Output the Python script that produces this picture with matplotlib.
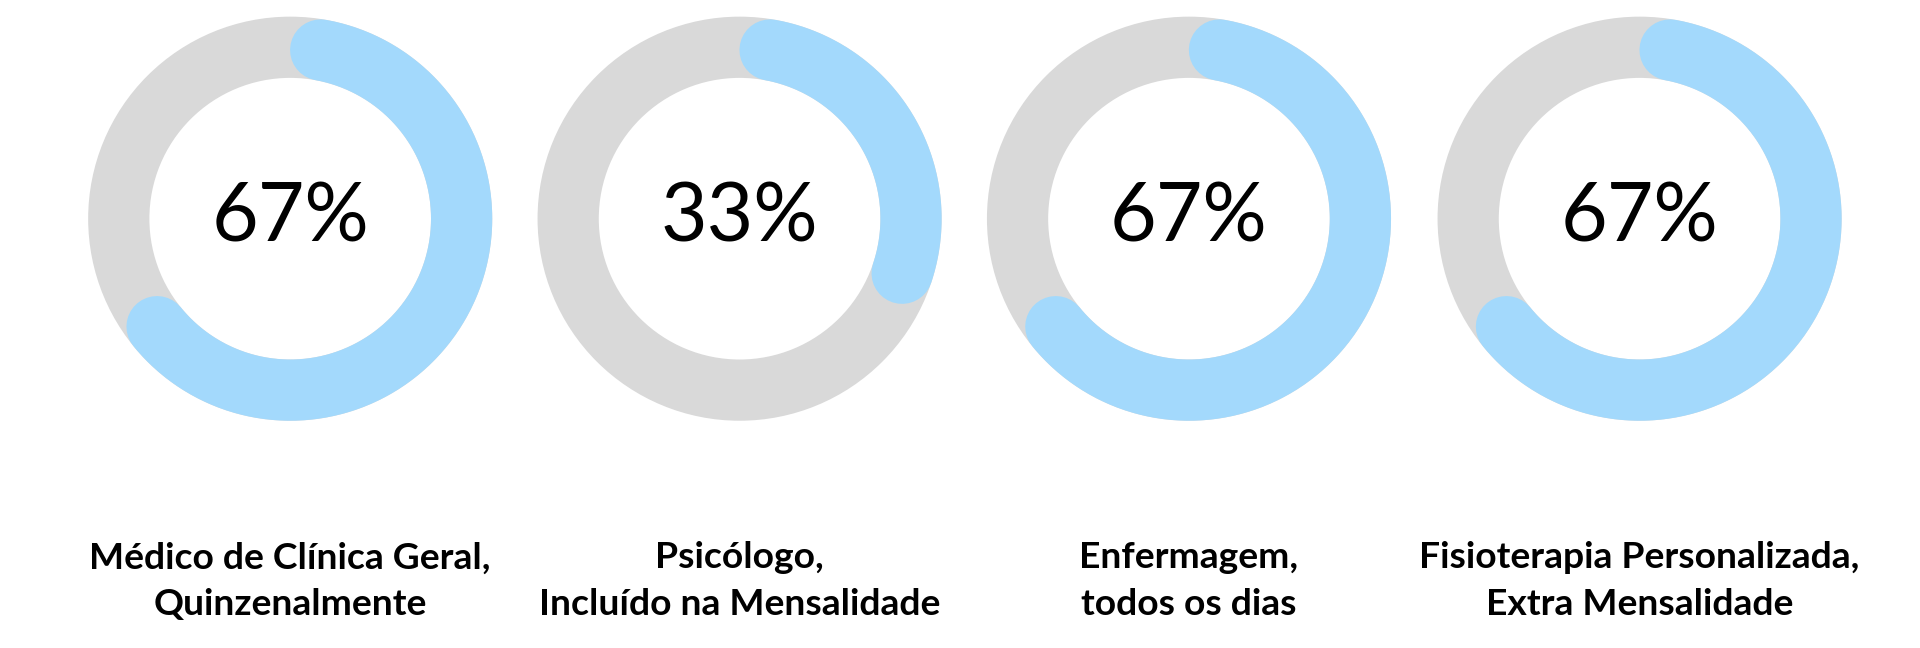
import numpy as np
import matplotlib
matplotlib.use("Agg")
import matplotlib.pyplot as plt
from matplotlib.patches import Circle

# chart data
labels = ["Médico de Clínica Geral,\nQuinzenalmente",
          "Psicólogo,\nIncluído na Mensalidade",
          "Enfermagem,\ntodos os dias",
          "Fisioterapia Personalizada,\nExtra Mensalidade"]
percents = [67, 33, 67, 67]

W, H = 1568, 528
fig = plt.figure(figsize=(19.2, 6.48), dpi=100)
ax = fig.add_axes([0, 0, 1, 1])
ax.set_xlim(0, W)
ax.set_ylim(H, 0)
ax.set_aspect("equal")
ax.axis("off")

scale = 1920 / W
lw = 50 * scale * 0.72
r = 140
cy = 178
centers = [237, 604, 971, 1339]
cap = np.degrees(25 / r)  # round cap sits inside the arc span

for cx, p, lab in zip(centers, percents, labels):
    ax.add_patch(Circle((cx, cy), r, fill=False, ec="#d9d9d9", lw=lw))
    ang = np.radians(90 - cap - np.linspace(0, 360 * p / 100 - 2 * cap, 300))
    ax.plot(cx + r * np.cos(ang), cy - r * np.sin(ang), color="#a3d9fc",
            lw=lw, solid_capstyle="round", solid_joinstyle="round")
    ax.text(cx, cy, f"{p}%", ha="center", va="center", fontsize=58,
            family=["Lato", "DejaVu Sans"])
    ax.text(cx, 474, lab, ha="center", va="center", fontsize=26.8,
            fontweight="bold", family=["Lato", "DejaVu Sans"], linespacing=1.5)

fig.savefig("out.png", dpi=100)
